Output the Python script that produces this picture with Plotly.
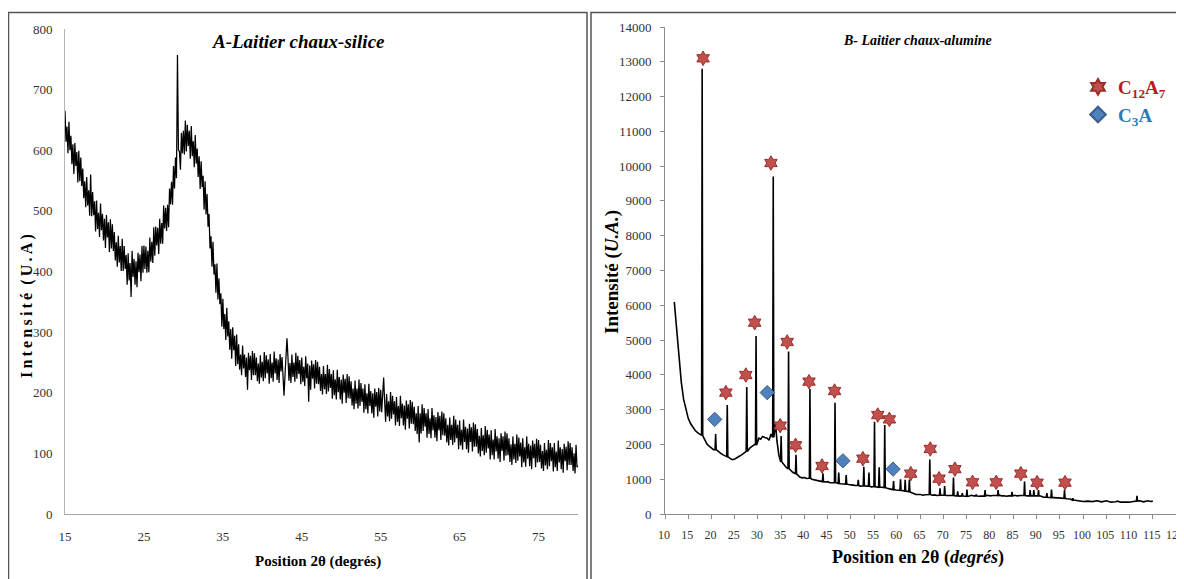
import numpy as np
import plotly.graph_objects as go

# ---------------- Panel A : Laitier chaux-silice (read per 0.125 deg) ----------------
theta_A_start, theta_A_step = 15.0, 0.125
counts_A = [
    665, 614, 639, 595, 647, 600, 624, 577,   # 15
    610, 561, 612, 574, 597, 547, 599, 549,   # 16
    588, 541, 570, 521, 549, 506, 556, 509,   # 17
    534, 492, 560, 491, 531, 493, 516, 466,   # 18
    517, 470, 497, 457, 512, 468, 495, 451,   # 19
    487, 439, 493, 456, 481, 432, 486, 438,   # 20
    478, 434, 465, 418, 448, 408, 459, 415,   # 21
    442, 401, 454, 401, 442, 404, 427, 378,   # 22
    430, 385, 414, 358, 434, 391, 421, 378,   # 23
    417, 374, 431, 399, 428, 384, 442, 398,   # 24
    443, 404, 441, 398, 434, 399, 456, 416,   # 25
    449, 414, 473, 426, 474, 443, 472, 429,   # 26
    487, 446, 480, 446, 509, 471, 505, 467,   # 27
    510, 473, 537, 511, 548, 510, 574, 537,   # 28
    588, 554, 757, 600, 598, 568, 629, 595,   # 29
    632, 593, 649, 598, 642, 607, 632, 586,   # 30
    640, 590, 615, 572, 625, 578, 603, 556,   # 31
    590, 536, 582, 539, 558, 502, 549, 494,   # 32
    528, 474, 495, 438, 458, 408, 449, 395,   # 33
    412, 365, 413, 354, 389, 346, 364, 309,   # 34
    355, 305, 330, 287, 340, 293, 318, 271,   # 35
    305, 256, 308, 270, 294, 244, 296, 247,   # 36
    280, 238, 263, 229, 278, 240, 263, 226,   # 37
    258, 205, 266, 237, 261, 221, 269, 229,   # 38
    265, 229, 258, 219, 248, 215, 262, 225,   # 39
    251, 219, 267, 224, 262, 232, 255, 215,   # 40
    264, 224, 250, 218, 268, 232, 257, 221,   # 41
    255, 216, 264, 235, 259, 220, 195, 229,   # 42
    266, 290, 259, 220, 249, 216, 263, 226,   # 43
    250, 218, 266, 223, 261, 231, 254, 214,   # 44
    258, 218, 243, 211, 260, 224, 248, 185,   # 45
    245, 205, 253, 223, 247, 207, 254, 215,   # 46
    251, 214, 243, 203, 231, 197, 244, 206,   # 47
    231, 198, 246, 202, 239, 208, 231, 190,   # 48
    237, 196, 222, 189, 238, 201, 226, 189,   # 49
    222, 182, 230, 200, 223, 183, 231, 191,   # 50
    227, 190, 219, 179, 207, 173, 220, 182,   # 51
    207, 174, 222, 178, 216, 185, 207, 167,   # 52
    214, 173, 199, 166, 215, 178, 203, 166,   # 53
    199, 159, 207, 177, 201, 161, 208, 169,   # 54
    205, 168, 197, 225, 186, 152, 198, 161,   # 55
    186, 153, 201, 157, 195, 164, 186, 146,   # 56
    193, 152, 178, 145, 195, 158, 182, 146,   # 57
    179, 139, 187, 157, 181, 141, 188, 149,   # 58
    185, 148, 177, 137, 166, 132, 178, 118,   # 59
    166, 133, 181, 137, 175, 144, 166, 126,   # 60
    173, 132, 158, 125, 175, 138, 163, 126,   # 61
    160, 120, 168, 138, 162, 122, 169, 130,   # 62
    166, 129, 158, 118, 147, 113, 159, 122,   # 63
    147, 114, 162, 118, 156, 125, 147, 107,   # 64
    154, 113, 139, 106, 156, 119, 144, 107,   # 65
    141, 101, 149, 119, 143, 103, 151, 111,   # 66
    148, 111, 140, 100, 129, 95, 142, 104,    # 67
    130, 97, 145, 101, 139, 108, 131, 90,     # 68
    138, 97, 123, 90, 140, 103, 128, 91,      # 69
    125, 86, 133, 104, 128, 88, 136, 96,      # 70
    133, 97, 125, 86, 115, 81, 128, 90,       # 71
    116, 84, 131, 88, 126, 95, 118, 77,       # 72
    125, 85, 110, 78, 128, 91, 116, 79,       # 73
    113, 74, 121, 92, 116, 77, 124, 85,       # 74
    122, 86, 114, 75, 104, 71, 117, 80,       # 75
    106, 74, 122, 79, 117, 87, 110, 70,       # 76
    117, 77, 103, 71, 121, 85, 110, 74,       # 77
    107, 68, 116, 87, 111, 72, 120, 81,       # 78
    117, 81, 110, 71, 100, 67, 114, 77,       # 79
    80,                                       # 80
]
theta_A = theta_A_start + theta_A_step * np.arange(len(counts_A))
ticks_A_x = [15, 25, 35, 45, 55, 65, 75]
ticks_A_y = [0, 100, 200, 300, 400, 500, 600, 700, 800]

# ---------------- Panel B : Laitier chaux-alumine ----------------
base_theta_B = [12.0, 12.5, 13.0, 13.5, 14.0, 14.5, 15.0, 15.5, 16.0, 16.5, 17.0, 17.5, 17.8,
                18.3, 18.6, 19.0, 19.5, 20.0, 20.5, 21.5, 22.0, 22.5, 23.0, 24.0, 24.5, 25.0,
                25.5, 26.0, 26.5, 27.0, 27.3, 28.3, 28.8, 29.3, 30.2, 30.6, 31.0, 31.5, 32.0,
                32.4, 32.8, 33.8, 34.1, 34.5, 35.4, 35.8, 36.1, 37.0, 37.5, 38.0, 38.6, 39.0,
                39.5, 40.0, 40.5, 40.9, 41.6, 42.0, 42.5, 43.0, 43.5, 44.5, 45.0, 45.5, 46.0,
                47.0, 47.8, 48.5, 49.5, 50.0, 50.5, 51.0, 52.0, 52.5, 53.4, 54.4, 55.5, 56.6,
                57.8, 58.5, 59.7, 60.3, 61.2, 62.2, 63.0, 63.5, 64.0, 65.0, 65.5, 66.0, 66.5,
                67.5, 68.0, 68.6, 69.7, 70.7, 71.5, 72.6, 73.5, 74.5, 75.5, 76.0, 76.5, 77.5,
                78.0, 78.5, 79.5, 80.0, 80.5, 81.0, 82.0, 82.5, 83.0, 83.5, 84.0, 85.3, 85.8,
                86.5, 87.0, 88.0, 89.0, 89.9, 91.0, 91.5, 92.7, 93.7, 94.5, 95.0, 95.5, 96.5,
                97.2, 98.3, 99.0, 100.0, 101.0, 102.0, 103.0, 103.5, 104.0, 105.0, 105.5, 106.0,
                107.0, 107.5, 108.0, 108.5, 109.0, 110.0, 110.5, 111.0, 112.2, 112.5, 113.0,
                114.0, 114.5, 115.0]
base_counts_B = [6100, 5300, 4500, 3800, 3300, 3000, 2750, 2600, 2480, 2400, 2340, 2300, 2280,
                 2200, 2100, 2020, 1950, 1890, 1840, 1790, 1740, 1700, 1660, 1600, 1560, 1580,
                 1610, 1660, 1700, 1760, 1790, 1900, 1950, 2000, 2180, 2150, 2230, 2200, 2180,
                 2120, 2300, 2600, 2100, 1700, 1450, 1380, 1340, 1260, 1200, 1160, 1120, 1060,
                 1040, 1050, 1020, 1030, 1000, 990, 980, 960, 940, 920, 930, 900, 890,
                 890, 870, 870, 850, 830, 830, 820, 800, 820, 800, 780, 780, 770,
                 740, 720, 690, 680, 670, 650, 620, 580, 560, 560, 540, 555, 560,
                 540, 550, 530, 540, 530, 520, 520, 515, 510, 520, 540, 520, 510,
                 520, 510, 540, 520, 530, 520, 540, 520, 525, 510, 520, 540, 520,
                 530, 520, 520, 520, 525, 510, 480, 480, 470, 460, 470, 450, 440,
                 430, 390, 370, 360, 370, 355, 380, 360, 350, 380, 350, 340,
                 350, 370, 340, 335, 330, 340, 350, 370, 380, 360, 350,
                 380, 360, 370]

peak_theta_B = [18.0, 20.9, 23.4, 27.6, 29.6, 33.3, 35.0, 36.6, 38.2, 41.2, 44.0, 46.6, 47.4,
                49.0, 51.6, 52.8, 53.9, 55.1, 56.1, 57.3, 59.2, 60.7, 61.7, 62.6, 67.0, 69.2,
                70.2, 72.1, 73.0, 74.0, 75.0, 77.0, 78.9, 81.7, 84.7, 87.4, 88.6, 89.4, 90.4,
                92.2, 93.2, 96.0, 97.8, 111.6]
peak_counts_B = [12800, 2300, 3130, 3650, 5120, 9700, 2240, 4670, 1700, 3590, 1170, 3200, 1190,
                 1120, 980, 1360, 1190, 2650, 1340, 2560, 950, 1000, 980, 980, 1570, 740,
                 800, 1050, 650, 600, 700, 560, 690, 690, 640, 930, 690, 690, 690,
                 600, 700, 690, 450, 520]
peak_base_B = [2260, 1850, 1650, 1800, 1980, 2200, 1500, 1300, 1150, 1030, 930, 900, 880,
               860, 820, 810, 800, 790, 770, 760, 700, 680, 660, 640, 560, 540,
               540, 530, 520, 520, 510, 520, 520, 530, 520, 530, 520, 520, 520,
               480, 470, 450, 400, 370]

c12a7_theta = [18.2, 23.1, 27.4, 29.3, 32.8, 34.8, 36.3, 38.1, 41.0, 43.8, 46.5, 52.6, 55.8,
               58.3, 62.9, 67.1, 69.0, 72.4, 76.2, 81.3, 86.6, 90.1, 96.1]
c12a7_counts = [13100, 3490, 3995, 5500, 10090, 2540, 4945, 1975, 3805, 1380, 3535, 1590, 2845,
                2720, 1160, 1870, 1015, 1290, 910, 910, 1160, 900, 900]
c3a_theta = [20.7, 32.0, 48.3, 59.1]
c3a_counts = [2720, 3490, 1530, 1290]

ticks_B_x = list(range(10, 121, 5))
ticks_B_y = list(range(0, 14001, 1000))

# Build the B profile: baseline points + narrow peaks (base, top, base)
pts = list(zip(base_theta_B, base_counts_B))
for p, h, b in zip(peak_theta_B, peak_counts_B, peak_base_B):
    pts += [(p - 0.12, b), (p, h), (p + 0.12, b)]
pts.sort(key=lambda t: t[0])
theta_B = [t[0] for t in pts]
counts_B = [t[1] for t in pts]

# ---------------- Figure ----------------
# the page body has an 8px margin: size the figure so it fills the rest of the window
OFF = 8
W, H = 1184 - OFF, 579 - OFF


def px(x):
    return (x - OFF) / W


def py(y):
    return 1 - (y - OFF) / H


SERIF = "Liberation Serif, Times New Roman, serif"
fig = go.Figure()

fig.add_trace(go.Scatter(x=theta_A, y=counts_A, mode="lines",
                         line=dict(color="black", width=1.25), xaxis="x", yaxis="y",
                         showlegend=False, hoverinfo="skip"))
fig.add_trace(go.Scatter(x=theta_B, y=counts_B, mode="lines",
                         line=dict(color="black", width=1.6), xaxis="x2", yaxis="y2",
                         showlegend=False, hoverinfo="skip"))
fig.add_trace(go.Scatter(x=c12a7_theta, y=c12a7_counts, mode="markers",
                         marker=dict(symbol="hexagram", size=11, color="#c0504d",
                                     line=dict(color="#9b2d2a", width=1)),
                         xaxis="x2", yaxis="y2",
                         name='<span style="color:#b81c22"><b>C<sub>12</sub>A<sub>7</sub></b></span>'))
fig.add_trace(go.Scatter(x=c3a_theta, y=c3a_counts, mode="markers",
                         marker=dict(symbol="diamond", size=11, color="#4f81bd",
                                     line=dict(color="#385d8a", width=1)),
                         xaxis="x2", yaxis="y2",
                         name='<span style="color:#2a7ab8"><b>C<sub>3</sub>A</b></span>'))

axis_font = dict(family=SERIF, size=13, color="#333333")
TS = "\u2009"
ytitle_A = "<b>" + TS.join("Intensité") + "  " + TS.join("(U.A)") + "</b>"

fig.update_layout(
    template="none",
    width=W, height=H, margin=dict(l=0, r=0, t=0, b=0, autoexpand=False),
    paper_bgcolor="white", plot_bgcolor="white",
    font=dict(family=SERIF, color="black"),
    xaxis=dict(domain=[px(65), px(578)], range=[15, 80], tickvals=ticks_A_x,
               showline=True, linecolor="#a6a6a6", linewidth=1, showgrid=False,
               zeroline=False, ticks="", tickfont=axis_font, anchor="y",
               ticklabelstandoff=10, automargin=False),
    yaxis=dict(domain=[py(514), py(29)], range=[0, 800], tickvals=ticks_A_y,
               showline=True, linecolor="#b5b5b5", linewidth=1, showgrid=False,
               zeroline=False, ticks="", tickfont=axis_font, anchor="x",
               ticklabelstandoff=9, automargin=False),
    xaxis2=dict(domain=[px(665), px(1176)], range=[10, 120], tickvals=ticks_B_x,
                showline=True, linecolor="#8c8c8c", linewidth=1, showgrid=False,
                zeroline=False, ticks="outside", ticklen=4, tickcolor="#8c8c8c",
                tickfont=dict(family=SERIF, size=12, color="#333333"), anchor="y2",
                ticklabelstandoff=6, ticklabelshift=-1, automargin=False,
                ticklabeloverflow="allow"),
    yaxis2=dict(domain=[py(514), py(27)], range=[0, 14000], tickvals=ticks_B_y,
                tickformat="d",
                showline=True, linecolor="#8c8c8c", linewidth=1, showgrid=False,
                zeroline=False, ticks="outside", ticklen=4, tickcolor="#8c8c8c",
                tickfont=axis_font, anchor="x2", ticklabelstandoff=6, automargin=False),
    legend=dict(x=px(1078), y=py(68), xanchor="left", yanchor="top",
                font=dict(family=SERIF, size=19), bgcolor="rgba(0,0,0,0)",
                itemsizing="constant"),
    shapes=[
        dict(type="rect", xref="paper", yref="paper", x0=px(8.5), x1=px(587),
             y0=-0.05, y1=py(12.5), line=dict(color="#555555", width=1.5)),
        dict(type="rect", xref="paper", yref="paper", x0=px(591), x1=1.05,
             y0=-0.05, y1=py(12.5), line=dict(color="#555555", width=1.5)),
    ],
    annotations=[
        dict(text="<b><i>A-Laitier chaux-silice</i></b>", xref="paper", yref="paper",
             x=px(298), y=py(42), showarrow=False, xanchor="center", yanchor="middle",
             font=dict(family=SERIF, size=19, color="black")),
        dict(text="<b><i>B- Laitier chaux-alumine</i></b>", xref="paper", yref="paper",
             x=px(917), y=py(40), showarrow=False, xanchor="center", yanchor="middle",
             font=dict(family=SERIF, size=14, color="black")),
        dict(text="<b>Position 2θ (degrés)</b>", xref="paper", yref="paper",
             x=px(318), y=py(561), showarrow=False, xanchor="center", yanchor="middle",
             font=dict(family=SERIF, size=15, color="black")),
        dict(text="<b>Position en 2θ (<i>degrés</i>)</b>", xref="paper", yref="paper",
             x=px(918), y=py(557), showarrow=False, xanchor="center", yanchor="middle",
             font=dict(family=SERIF, size=18, color="black")),
        dict(text=ytitle_A, xref="paper", yref="paper",
             x=px(27), y=py(306), showarrow=False, xanchor="center", yanchor="middle",
             textangle=-90, font=dict(family=SERIF, size=16, color="black")),
        dict(text="<b>Intensité (<i>U.A.</i>)</b>", xref="paper", yref="paper",
             x=px(612), y=py(272), showarrow=False, xanchor="center", yanchor="middle",
             textangle=-90, font=dict(family=SERIF, size=19, color="black")),
    ],
)

fig.write_html("out.html")
